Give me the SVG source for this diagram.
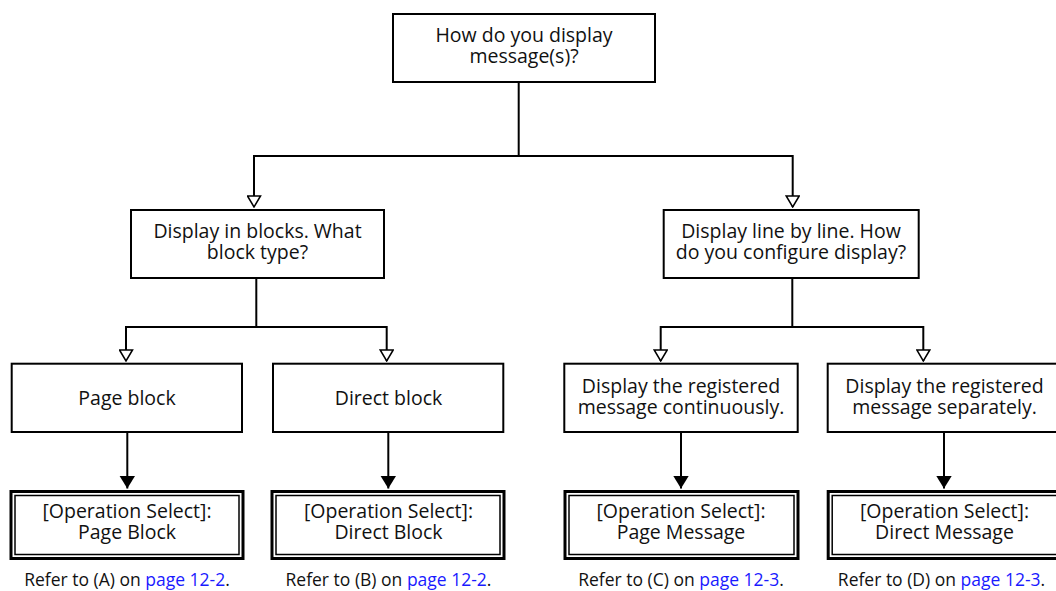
<svg xmlns="http://www.w3.org/2000/svg" width="1056" height="591" viewBox="0 0 1056 591">
<defs>
<style>
.box{fill:#fff;stroke:#000;stroke-width:2}
.outer{fill:#fff;stroke:#000;stroke-width:3}
.inner{fill:none;stroke:#000;stroke-width:1.5}
.t{font-family:"Open Sans","Noto Sans","DejaVu Sans",sans-serif;font-size:19.5px;fill:#111;text-anchor:middle}
.r{font-family:"Open Sans","Noto Sans","DejaVu Sans",sans-serif;font-size:17.5px;fill:#111;text-anchor:middle}
.lnk{fill:#1a1aff}
.c{fill:none;stroke:#000;stroke-width:2}
</style>
<marker id="hollow" markerUnits="userSpaceOnUse" viewBox="0 0 13 15" refX="12" refY="7.5" markerWidth="13" markerHeight="15" orient="auto">
<path d="M1,1 L12,7.5 L1,14 z" fill="#fff" stroke="#000" stroke-width="1.5"/>
</marker>
<marker id="filled" markerUnits="userSpaceOnUse" viewBox="0 0 13 16" refX="13" refY="8" markerWidth="13" markerHeight="16" orient="auto">
<path d="M0,0 L13,8 L0,16 z" fill="#000"/>
</marker>
</defs>
<rect width="1056" height="591" fill="#fff"/>
<g id="connectors">
<path class="c" d="M518.7,83 V156"/>
<path class="c" d="M254,156 H792.7"/>
<path class="c" d="M254,155 V207" marker-end="url(#hollow)"/>
<path class="c" d="M792.7,155 V207" marker-end="url(#hollow)"/>
<path class="c" d="M256.3,279 V327"/>
<path class="c" d="M126,327 H386.7"/>
<path class="c" d="M126,326 V361" marker-end="url(#hollow)"/>
<path class="c" d="M386.7,326 V361" marker-end="url(#hollow)"/>
<path class="c" d="M792.3,279 V327"/>
<path class="c" d="M660.7,327 H923.3"/>
<path class="c" d="M660.7,326 V361" marker-end="url(#hollow)"/>
<path class="c" d="M923.3,326 V361" marker-end="url(#hollow)"/>
<path class="c" d="M127.3,433 V488.5" marker-end="url(#filled)"/>
<path class="c" d="M388.3,433 V488.5" marker-end="url(#filled)"/>
<path class="c" d="M681,433 V488.5" marker-end="url(#filled)"/>
<path class="c" d="M944,433 V488.5" marker-end="url(#filled)"/>
</g>
<g id="n-top">
<rect class="box" x="393" y="14" width="262" height="68"/>
<text class="t" x="524" y="41.5">How do you display</text>
<text class="t" x="524" y="62.5">message(s)?</text>
</g>
<g id="n-blocks">
<rect class="box" x="131" y="210" width="253" height="68"/>
<text class="t" x="257.5" y="238">Display in blocks. What</text>
<text class="t" x="257.5" y="259">block type?</text>
</g>
<g id="n-lines">
<rect class="box" x="663.7" y="210" width="255" height="68"/>
<text class="t" x="791" y="238">Display line by line. How</text>
<text class="t" x="791" y="259">do you configure display?</text>
</g>
<g id="n-pageblock">
<rect class="box" x="11.7" y="363.7" width="230.3" height="68.3"/>
<text class="t" x="127" y="405">Page block</text>
</g>
<g id="n-directblock">
<rect class="box" x="273" y="363.7" width="230.3" height="68.3"/>
<text class="t" x="388.5" y="405">Direct block</text>
</g>
<g id="n-continuous">
<rect class="box" x="564.3" y="363.7" width="233.4" height="68.3"/>
<text class="t" x="681" y="392.5">Display the registered</text>
<text class="t" x="681" y="413.5">message continuously.</text>
</g>
<g id="n-separate">
<rect class="box" x="827.7" y="363.7" width="240" height="68.3"/>
<text class="t" x="944.5" y="392.5">Display the registered</text>
<text class="t" x="944.5" y="413.5">message separately.</text>
</g>
<g id="n-op-pageblock">
<rect class="outer" x="11" y="491.5" width="232" height="67"/>
<rect class="inner" x="15" y="495.5" width="224" height="59"/>
<text class="t" x="127" y="518">[Operation Select]:</text>
<text class="t" x="127" y="539">Page Block</text>
<text class="r" x="127" y="585.5"><tspan>Refer to (A) on </tspan><tspan class="lnk">page 12-2</tspan><tspan>.</tspan></text>
</g>
<g id="n-op-directblock">
<rect class="outer" x="272" y="491.5" width="232" height="67"/>
<rect class="inner" x="276" y="495.5" width="224" height="59"/>
<text class="t" x="388.5" y="518">[Operation Select]:</text>
<text class="t" x="388.5" y="539">Direct Block</text>
<text class="r" x="388.5" y="585.5"><tspan>Refer to (B) on </tspan><tspan class="lnk">page 12-2</tspan><tspan>.</tspan></text>
</g>
<g id="n-op-pagemessage">
<rect class="outer" x="565" y="491.5" width="233" height="67"/>
<rect class="inner" x="569" y="495.5" width="225" height="59"/>
<text class="t" x="681" y="518">[Operation Select]:</text>
<text class="t" x="681" y="539">Page Message</text>
<text class="r" x="681" y="585.5"><tspan>Refer to (C) on </tspan><tspan class="lnk">page 12-3</tspan><tspan>.</tspan></text>
</g>
<g id="n-op-directmessage">
<rect class="outer" x="828.2" y="491.5" width="240" height="67"/>
<rect class="inner" x="832.2" y="495.5" width="240" height="59"/>
<text class="t" x="944.5" y="518">[Operation Select]:</text>
<text class="t" x="944.5" y="539">Direct Message</text>
<text class="r" x="941.5" y="585.5"><tspan>Refer to (D) on </tspan><tspan class="lnk">page 12-3</tspan><tspan>.</tspan></text>
</g>
</svg>
